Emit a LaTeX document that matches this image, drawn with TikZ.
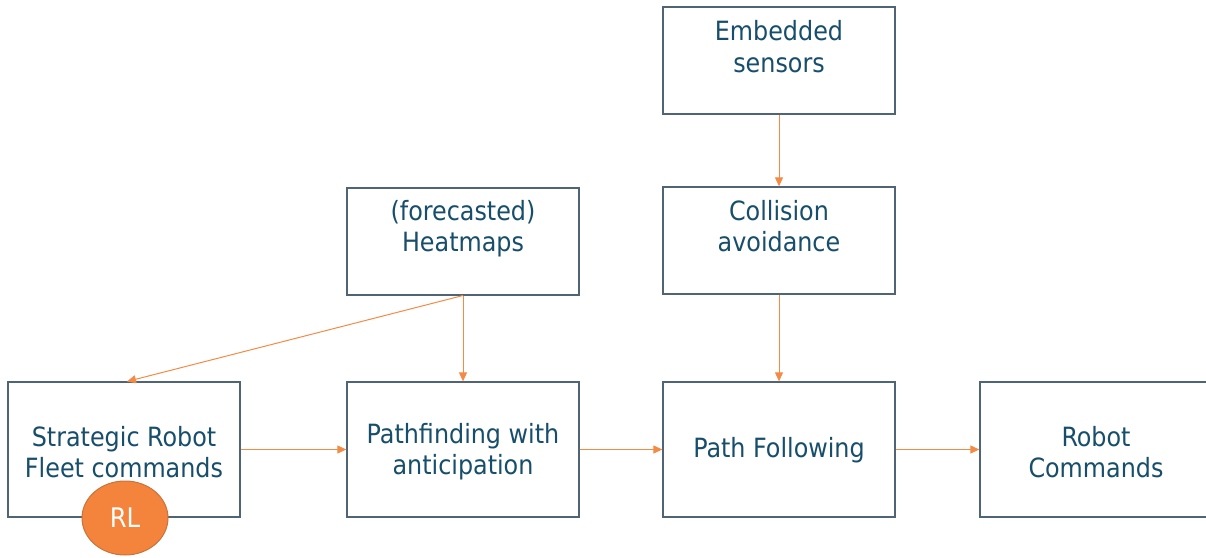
\documentclass[tikz,border=0pt]{standalone}
\usepackage{fontspec}
\setmainfont{DejaVu Sans Condensed}
\usetikzlibrary{arrows.meta,shapes.geometric}
\definecolor{boxline}{HTML}{4F6575}
\definecolor{boxtext}{HTML}{174E6B}
\definecolor{flow}{HTML}{F48B45}
\definecolor{rlfill}{HTML}{F4843C}
\definecolor{rlline}{HTML}{C8733C}
\begin{document}
\begin{tikzpicture}[x=1pt,y=-1pt,
  blk/.style={draw=boxline,line width=1.3pt,fill=white,minimum width=232pt,
    text=boxtext,font=\fontsize{26.5}{31.5}\selectfont,align=center,inner sep=0pt},
  tallblk/.style={blk,minimum height=135pt},
  topblk/.style={blk,minimum height=107pt},
  lbl/.style={text=boxtext,font=\fontsize{26.5}{31.5}\selectfont,align=center},
  flowarrow/.style={draw=flow,line width=1pt,-{Triangle[length=9pt,width=8pt]}}]
\useasboundingbox (0,0) rectangle (1206,557);
\begin{scope}
\clip (0,0) rectangle (1206,557);
% upper row
\node[topblk] (sens) at (779,60.5) {};
\node[lbl] (senstxt) at (779,46.5) {Embedded\\sensors};
\node[topblk] (coll) at (779,240.5) {};
\node[lbl] (colltxt) at (779,226) {Collision\\avoidance};
\node[topblk] (heat) at (463,241.5) {};
\node[lbl] (heattxt) at (463,228.5) {(forecasted)\\Heatmaps};
% lower row
\node[tallblk] (strat) at (124,449.5) {};
\node[lbl] (strattxt) at (124,452) {Strategic Robot\\Fleet commands};
\node[tallblk] (path) at (463,449.5) {};
\node[lbl] (pathtxt) at (463,451.5) {Pathfinding with\\anticipation};
\node[tallblk] (follow) at (779,449.5) {};
\node[lbl] (followtxt) at (779,450.5) {Path Following};
\node[tallblk] (cmd) at (1096,449.5) {};
\node[lbl] (cmdtxt) at (1096,452) {Robot\\Commands};
% reinforcement learning marker
\node[ellipse,draw=rlline,line width=1pt,fill=rlfill,minimum width=86pt,minimum height=74pt,
  inner sep=0pt,text=white,font=\fontsize{27}{30}\selectfont] (rl) at (125,518) {RL};
% connectors
\coordinate (hb) at (463,295.5);
\coordinate (st) at (127,381.5);
\draw[flowarrow] (hb) -- (st);
\draw[flowarrow] (hb) -- (path.north);
\draw[flowarrow] (sens.south) -- (coll.north);
\draw[flowarrow] (coll.south) -- (follow.north);
\draw[flowarrow] (strat.east) -- (path.west);
\draw[flowarrow] (path.east) -- (follow.west);
\draw[flowarrow] (follow.east) -- (cmd.west);
\end{scope}
\end{tikzpicture}
\end{document}
